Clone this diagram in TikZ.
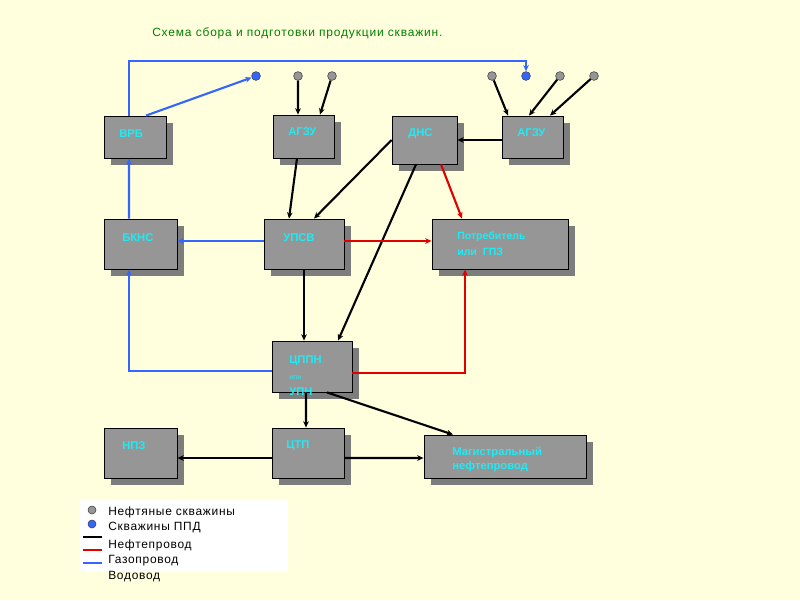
\documentclass[tikz,border=0pt]{standalone}
\usepackage{fontspec}
\setmainfont{Liberation Sans}
\newfontfamily\widefont[LetterSpace=7]{Liberation Sans}
\newfontfamily\legfont[LetterSpace=6]{Liberation Sans}
\usetikzlibrary{arrows.meta, shadows}

\definecolor{paper}{RGB}{255,255,221}
\definecolor{boxgray}{RGB}{150,150,150}
\definecolor{shadowgray}{RGB}{125,125,125}
\definecolor{tagcyan}{RGB}{30,235,245}
\definecolor{pipeblue}{RGB}{51,102,255}
\definecolor{pipered}{RGB}{225,0,0}
\definecolor{titlegreen}{RGB}{0,128,0}

\begin{document}
\begin{tikzpicture}[x=0.025cm, y=-0.025cm,
		unit/.style={draw, line width=0.6pt, fill=boxgray, inner sep=0pt,
			drop shadow={shadow xshift=0.175cm, shadow yshift=-0.175cm, opacity=1, fill=shadowgray}},
		tag/.style={anchor=west, inner sep=0pt, text=tagcyan, font=\bfseries\fontsize{8}{9}\selectfont},
		well/.style={circle, draw=black!75, fill=boxgray, minimum size=0.22cm, inner sep=0pt},
		ppd/.style={well, fill=pipeblue},
		oilpipe/.style={line width=1.5pt, -{Stealth[length=4.5pt,width=4pt]}},
		gaspipe/.style={oilpipe, draw=pipered},
		waterpipe/.style={oilpipe, draw=pipeblue},
		legtext/.style={anchor=west, inner sep=0pt, font=\legfont\fontsize{8.5}{10}\selectfont}]
			\useasboundingbox[fill=paper] (0,0) rectangle (800,600);
			
			\node[anchor=west, inner sep=0pt, text=titlegreen, font=\widefont\fontsize{8.5}{10}\selectfont] (title) at (152,33) {Схема сбора и подготовки продукции скважин.};
			
			% boxes
			\node[unit, minimum width=1.55cm, minimum height=1.05cm] (vrb) at (135,137) {};
			\node[unit, minimum width=1.525cm, minimum height=1.075cm] (agzuA) at (303.5,136.5) {};
			\node[unit, minimum width=1.625cm, minimum height=1.2cm] (dns) at (424.5,140) {};
			\node[unit, minimum width=1.525cm, minimum height=1.05cm] (agzuB) at (532.5,137) {};
			\node[unit, minimum width=1.825cm, minimum height=1.25cm] (bkns) at (140.5,244) {};
			\node[unit, minimum width=2cm, minimum height=1.25cm] (upsv) at (304,244) {};
			\node[unit, minimum width=3.4cm, minimum height=1.25cm] (cons) at (500,244) {};
			\node[unit, minimum width=2cm, minimum height=1.275cm] (cppn) at (312,366.5) {};
			\node[unit, minimum width=1.825cm, minimum height=1.25cm] (npz) at (140.5,453) {};
			\node[unit, minimum width=1.8cm, minimum height=1.25cm] (ctp) at (308,453) {};
			\node[unit, minimum width=4.05cm, minimum height=1.075cm] (mag) at (505,456.5) {};
			
			\node[tag] (vrbt) at (119,134) {ВРБ};
			\node[tag] (agzuAt) at (288,132) {АГЗУ};
			\node[tag] (dnst) at (408,134) {ДНС};
			\node[tag] (agzuBt) at (517,133) {АГЗУ};
			\node[tag] (bknst) at (122,238) {БКНС};
			\node[tag] (upsvt) at (283,238) {УПСВ};
			\node[tag, font=\bfseries\fontsize{7.5}{8.5}\selectfont] (const) at (457,237) {Потребитель};
			\node[tag, font=\bfseries\fontsize{7.5}{8.5}\selectfont] (consb) at (457,252) {или\ \ ГПЗ};
			\node[tag] (cppnt) at (289,361) {ЦППН};
			\node[tag, font=\fontsize{5}{6}\selectfont] (cppno) at (289,378) {или};
			\node[tag] (cppnb) at (289,392) {УПН};
			\node[tag] (npzt) at (122,446) {НПЗ};
			\node[tag] (ctpt) at (286,446) {ЦТП};
			\node[tag] (magt) at (452,452) {Магистральный};
			\node[tag] (magb) at (452,467) {нефтепровод};
			
			% wells
			\node[ppd] (b1) at (256,76) {};
			\node[well] (g1) at (298,76) {};
			\node[well] (g2) at (332,76) {};
			\node[well] (g3) at (492,76) {};
			\node[ppd] (b2) at (526,76) {};
			\node[well] (g4) at (560,76) {};
			\node[well] (g5) at (594,76) {};
			
			% water
			\draw[waterpipe] ([xshift=-0.15cm]vrb.north) -- ++(0,-55) -| (b2.north);
			\draw[waterpipe] ([xshift=0.275cm]vrb.north) -- (b1);
			\draw[waterpipe] ([xshift=-0.2875cm]bkns.north) -- ([xshift=-0.15cm]vrb.south);
			\draw[waterpipe] ([yshift=0.075cm]upsv.west) -- ([yshift=0.075cm]bkns.east);
			\draw[waterpipe] ([yshift=-0.1125cm]cppn.west) -| ([xshift=-0.2875cm]bkns.south);
			
			% oil
			\draw[oilpipe] (g1) -- ([xshift=-0.1375cm]agzuA.north);
			\draw[oilpipe] (g2) -- ([xshift=0.4125cm]agzuA.north);
			\draw[oilpipe] (g3) -- ([xshift=-0.6125cm]agzuB.north);
			\draw[oilpipe] (g4) -- ([xshift=-0.0875cm]agzuB.north);
			\draw[oilpipe] (g5) -- ([xshift=0.4375cm]agzuB.north);
			\draw[oilpipe] (agzuB.west |- dns) -- (dns.east);
			\draw[oilpipe] ([xshift=-0.1625cm]agzuA.south) -- ([xshift=-0.375cm]upsv.north);
			\draw[oilpipe] (dns.west) -- ([xshift=0.25cm]upsv.north);
			\draw[oilpipe] ([xshift=-0.2125cm]dns.south) -- ([xshift=0.65cm]cppn.north);
			\draw[oilpipe] (upsv.south) -- (upsv.south |- cppn.north);
			\draw[oilpipe] ([xshift=-0.15cm]cppn.south) -- ([xshift=-0.05cm]ctp.north);
			\draw[oilpipe] ([xshift=0.375cm]cppn.south) -- ([xshift=-1.3cm]mag.north);
			\draw[oilpipe] ([yshift=-0.125cm]ctp.west) -- ([yshift=-0.125cm]npz.east);
			\draw[oilpipe] ([yshift=-0.125cm]ctp.east) -- ([yshift=-0.0375cm]mag.west);
			
			% gas
			\draw[gaspipe] ([xshift=0.4125cm]dns.south) -- ([xshift=-0.95cm]cons.north);
			\draw[gaspipe] ([yshift=0.075cm]upsv.east) -- ([yshift=0.075cm]cons.west);
			\draw[gaspipe] ([yshift=-0.1625cm]cppn.east) -| ([xshift=-0.875cm]cons.south);
			
			% legend
			\fill[white] (80,500) rectangle (288,572);
			\node[well, minimum size=0.2cm] (lg) at (92,510) {};
			\node[ppd, minimum size=0.2cm] (lb) at (92,524) {};
			\draw[line width=1.5pt] (83,537) -- (102,537);
			\draw[line width=1.5pt, pipered] (83,550) -- (102,550);
			\draw[line width=1.5pt, pipeblue] (83,563) -- (102,563);
			\node[legtext] (l1) at (108,512) {Нефтяные скважины};
			\node[legtext] (l2) at (108,528) {Скважины ППД};
			\node[legtext] (l3) at (108,545) {Нефтепровод};
			\node[legtext] (l4) at (108,561) {Газопровод};
			\node[legtext] (l5) at (108,577) {Водовод};
		\end{tikzpicture}
\end{document}
